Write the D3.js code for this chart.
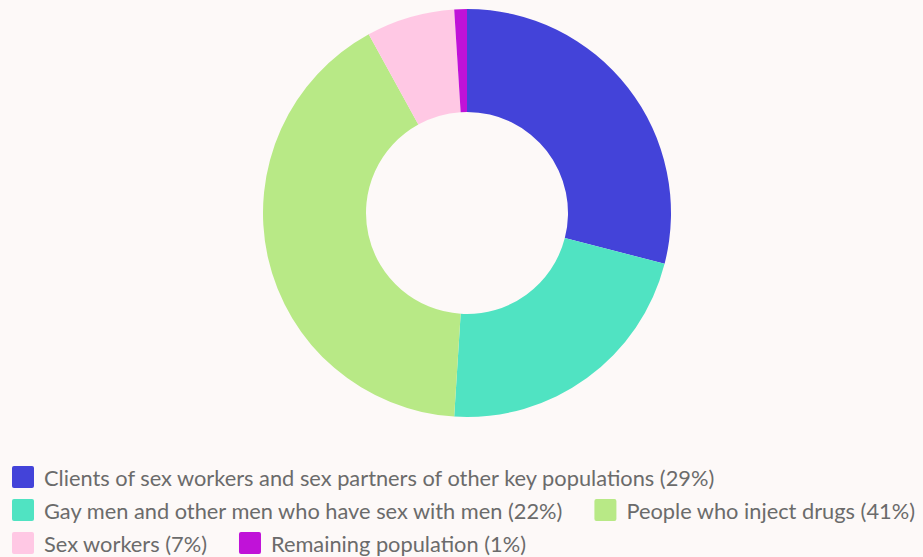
<!DOCTYPE html>
<html>
<head>
<meta charset="utf-8">
<script src="https://cdn.jsdelivr.net/npm/d3@7"></script>
<style>
  html, body { margin: 0; padding: 0; background: #fdf9f8; }
  svg { display: block; }
</style>
</head>
<body>
<svg id="chart"></svg>
<script>
var categories = [
  "Clients of sex workers and sex partners of other key populations",
  "Gay men and other men who have sex with men",
  "People who inject drugs",
  "Sex workers",
  "Remaining population"
];
var shares = [29, 22, 41, 7, 1];
var colors = ["#4343d9", "#50e3c2", "#b8e986", "#ffc8e4", "#c012d8"];

var width = 923,
    height = 557;

var svg = d3.select("#chart")
    .attr("width", width)
    .attr("height", height);

var data = categories.map(function(c, i) {
  return { name: c, value: shares[i], color: colors[i] };
});

var pie = d3.pie()
    .sort(null)
    .value(function(d) { return d.value; });

var arc = d3.arc()
    .innerRadius(101)
    .outerRadius(204);

var g = svg.append("g")
    .attr("transform", "translate(467,213)");

g.selectAll("path")
  .data(pie(data))
  .enter().append("path")
    .attr("d", arc)
    .attr("fill", function(d) { return d.data.color; });

// legend, flowing left to right and wrapping
var legend = svg.append("g")
    .attr("font-family", "Lato, sans-serif")
    .attr("font-size", 21.8)
    .attr("fill", "#6b6b6b");

var x = 12, y = 466, rowH = 33, gap = 32;
data.forEach(function(d) {
  var item = legend.append("g");
  item.append("rect")
      .attr("width", 22).attr("height", 22)
      .attr("rx", 2)
      .attr("fill", d.color);
  var t = item.append("text")
      .attr("x", 32)
      .attr("y", 20)
      .text(d.name + " (" + d.value + "%)");
  var w = 32 + t.node().getComputedTextLength();
  if (x > 12 && x + w > width - 4) {
    x = 12;
    y += rowH;
  }
  item.attr("transform", "translate(" + x + "," + y + ")");
  x += w + gap;
});
</script>
</body>
</html>
